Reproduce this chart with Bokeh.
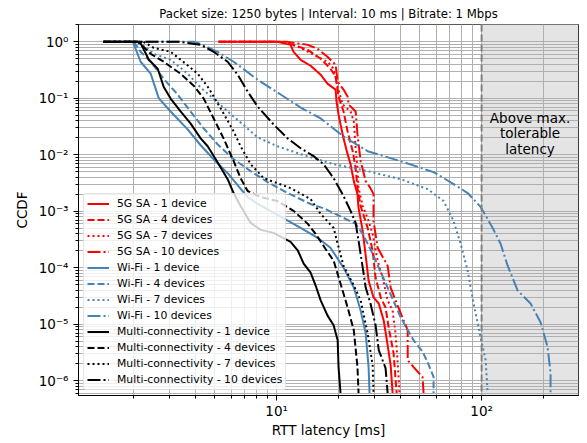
from bokeh.plotting import figure
from bokeh.models import FixedTicker, CustomJSTickFormatter, BoxAnnotation, Span, Label
from bokeh.embed import file_html
from bokeh.resources import INLINE

TITLE = "Packet size: 1250 bytes | Interval: 10 ms | Bitrate: 1 Mbps"
X_LABEL = "RTT latency [ms]"
Y_LABEL = "CCDF"
MAX_LATENCY = 100  # ms, max tolerable latency
SHADE_TEXT = "Above max.\ntolerable\nlatency"

X_RANGE = (1.08, 297)
Y_RANGE = (5.5e-7, 2.03)
X_MAJOR = [1, 10, 100]
Y_MAJOR = [1e-6, 1e-5, 1e-4, 1e-3, 1e-2, 1e-1, 1]

# ---- 5G SA ----
g5_1_ms = [5.21, 10.1, 11.7, 12.1, 13.1, 14.65, 16.4, 17.7, 19.4, 19.6, 20.05, 20.5, 21.2, 22.2, 22.95,
           23.8, 24.8, 25.1, 26.3, 27.2, 28.1, 29.7, 31.5, 33.3, 34.8, 36.0, 36.8]
g5_1_cc = [1, 1, 0.885, 0.667, 0.482, 0.378, 0.263, 0.182, 0.143, 0.0879, 0.0519, 0.0346, 0.0196, 0.0103,
           0.00683, 0.00343, 0.00202, 0.00115, 0.000452, 0.000164, 5.95e-5, 2.99e-5, 2.34e-5, 1.17e-5,
           4.27e-6, 1.9e-6, 6.1e-7]
g5_4_ms = [5.21, 10.46, 12.1, 14.2, 16.4, 18.3, 19.4, 20.05, 21.2, 22.2, 23.5, 24.3, 24.8, 25.7, 27.8,
           29.4, 30.4, 32.2, 34.0, 35.2, 37.2, 38.5]
g5_4_cc = [1, 1, 0.885, 0.723, 0.502, 0.335, 0.242, 0.108, 0.0586, 0.026, 0.0116, 0.00581, 0.00258,
           0.00124, 0.00051, 0.000201, 6.72e-5, 2.99e-5, 1.99e-5, 8.86e-6, 3.09e-6, 6.1e-7]
g5_7_ms = [5.21, 10.8, 13.1, 15.15, 17.7, 18.97, 19.85, 21.0, 22.95, 23.8, 24.3, 24.8, 25.1, 26.3, 28.1,
           29.4, 31.1, 32.9, 34.8, 36.8, 38.0, 38.9, 39.8]
g5_7_cc = [1, 1, 0.784, 0.59, 0.445, 0.335, 0.161, 0.0778, 0.0586, 0.0391, 0.0131, 0.00581, 0.00258,
           0.00124, 0.000678, 0.0004, 0.000134, 6.72e-5, 2.65e-5, 1.76e-5, 6.94e-6, 2.32e-6, 6.1e-7]
g5_10_ms = [5.21, 11.3, 14.2, 15.85, 17.7, 19.4, 19.85, 21.2, 22.2, 22.45, 24.3, 24.8, 25.7, 27.2, 28.7,
            29.7, 29.7, 31.1, 34.8, 36.0, 38.9, 43.6, 43.6, 46.6, 51.5, 52.1]
g5_10_cc = [1, 1, 0.885, 0.753, 0.545, 0.394, 0.198, 0.143, 0.108, 0.0778, 0.0586, 0.023, 0.00772,
            0.00343, 0.00258, 0.00202, 0.000678, 0.000227, 0.000109, 4.48e-5, 2.16e-5, 7.84e-6, 2.32e-6,
            1.75e-6, 1.17e-6, 6.1e-7]

# ---- Wi-Fi ----
wf_1_ms = [1.43, 1.99, 2.17, 2.43, 2.66, 3.04, 3.68, 4.26, 4.93, 5.77, 6.45, 7.22, 8.08, 10.1, 13.1,
           15.85, 18.3, 21.2, 23.8, 25.7, 27.2, 28.1, 28.4]
wf_1_cc = [1, 1, 0.445, 0.273, 0.101, 0.0586, 0.0282, 0.0148, 0.00836, 0.00473, 0.00291, 0.00179,
           0.00135, 0.000865, 0.00051, 0.00034, 0.000227, 0.000101, 4.48e-5, 1.76e-5, 6.94e-6, 1.75e-6,
           6.1e-7]
wf_4_ms = [1.43, 2.01, 2.17, 2.43, 2.81, 3.29, 3.80, 4.41, 5.15, 6.17, 7.47, 9.04, 11.3, 14.65, 17.3,
           21.2, 24.3, 26.3, 29.4, 34.8, 40.3, 46.6, 51.5, 54.5, 58.3, 58.3]
wf_4_cc = [1, 1, 0.667, 0.445, 0.223, 0.117, 0.0586, 0.0294, 0.0154, 0.00836, 0.00515, 0.00329, 0.00211,
           0.00135, 0.0011, 0.000765, 0.0006, 0.0004, 0.000178, 4.48e-5, 1.33e-5, 5.22e-6, 3.3e-6,
           2.14e-6, 1.17e-6, 6.1e-7]
wf_7_ms = [1.43, 2.05, 2.17, 2.35, 2.51, 3.04, 3.68, 4.26, 4.93, 5.77, 6.67, 8.08, 10.1, 13.1, 18.97,
           27.8, 40.3, 54.5, 65.3, 73.0, 79.0, 85.5, 91.4, 98.9, 104.7, 107.0]
wf_7_cc = [1, 1, 0.922, 0.753, 0.615, 0.482, 0.273, 0.155, 0.099, 0.0586, 0.0375, 0.0204, 0.0142,
           0.0103, 0.00683, 0.00515, 0.00371, 0.00248, 0.00152, 0.000678, 0.000267, 8.93e-5, 2.34e-5,
           5.9e-6, 2.32e-6, 6.1e-7]
wf_10_ms = [1.43, 3.94, 4.26, 5.15, 6.17, 8.08, 10.46, 13.1, 16.4, 21.2, 27.8, 40.3, 58.3, 73.0, 85.5,
            98.9, 113.2, 123.8, 134.0, 150, 173.4, 194.1, 210, 217, 217]
wf_10_cc = [1, 1, 0.922, 0.667, 0.445, 0.214, 0.117, 0.0689, 0.0441, 0.0212, 0.0116, 0.00772, 0.00494,
            0.00304, 0.00211, 0.0012, 0.00051, 0.000267, 0.000109, 3.97e-5, 2.34e-5, 1.08e-5, 3.93e-6,
            1.37e-6, 6.1e-7]

# ---- Multi-connectivity ----
mc_1_ms = [1.43, 2.15, 2.24, 2.38, 2.63, 2.81, 3.04, 3.40, 3.80, 4.26, 4.61, 5.15, 5.77, 6.17, 6.67,
           7.47, 8.36, 9.66, 11.7, 12.7, 13.55, 14.65, 15.5, 16.4, 17.7, 18.97, 19.85, 20.05, 20.5]
mc_1_cc = [1, 1, 0.753, 0.482, 0.335, 0.161, 0.099, 0.0586, 0.036, 0.0196, 0.0142, 0.00741, 0.00371,
           0.00211, 0.00124, 0.000624, 0.00047, 0.000416, 0.000289, 0.000201, 0.000119, 8.23e-5,
           4.86e-5, 2.65e-5, 1.44e-5, 9.6e-6, 5.22e-6, 1.75e-6, 6.1e-7]
mc_4_ms = [1.43, 2.10, 2.24, 2.43, 2.81, 3.40, 3.94, 4.41, 4.93, 5.51, 6.17, 6.67, 7.22, 8.36, 10.1,
           12.1, 14.2, 15.5, 17.3, 18.97, 20.5, 22.2, 23.8, 24.8, 25.1]
mc_4_cc = [1, 1, 0.817, 0.615, 0.445, 0.273, 0.168, 0.099, 0.0441, 0.0196, 0.00772, 0.00387, 0.00229,
           0.00179, 0.00152, 0.00102, 0.0006, 0.0004, 0.000218, 0.000134, 5.27e-5, 1.99e-5, 7.84e-6,
           1.75e-6, 6.1e-7]
mc_7_ms = [1.43, 2.24, 2.51, 3.04, 3.60, 4.12, 4.61, 4.93, 5.51, 6.17, 6.67, 7.47, 8.65, 11.7, 14.65,
           16.4, 18.97, 19.85, 21.2, 23.8, 25.7, 27.8, 29.4, 29.7]
mc_7_cc = [1, 1, 0.784, 0.667, 0.41, 0.273, 0.161, 0.108, 0.0541, 0.026, 0.0142, 0.00683, 0.00387,
           0.00258, 0.00165, 0.0009, 0.00051, 0.000267, 0.000109, 4.86e-5, 2.65e-5, 6.94e-6, 1.9e-6,
           6.1e-7]
mc_10_ms = [1.43, 3.40, 4.26, 4.93, 5.77, 6.45, 7.22, 8.08, 9.66, 11.3, 13.1, 15.15, 16.95, 18.97, 21.2,
            22.95, 24.3, 25.1, 26.3, 27.2, 28.7, 30.4, 31.5, 34.0, 34.8]
mc_10_cc = [1, 1, 0.885, 0.667, 0.445, 0.263, 0.132, 0.0717, 0.0346, 0.0196, 0.0131, 0.00949, 0.00683,
            0.00387, 0.00187, 0.00102, 0.000624, 0.000301, 0.000101, 4.48e-5, 2.34e-5, 9.6e-6, 3.49e-6,
            1.68e-6, 6.1e-7]

RED, BLUE, BLACK = "#ff0000", "#4682b4", "#000000"
DASHES = {1: "solid", 4: "7 3", 7: "2 3", 10: "13 3 2 3"}

series = [
    ("5G SA - 1 device", g5_1_ms, g5_1_cc, RED, 1),
    ("5G SA - 4 devices", g5_4_ms, g5_4_cc, RED, 4),
    ("5G SA - 7 devices", g5_7_ms, g5_7_cc, RED, 7),
    ("5G SA - 10 devices", g5_10_ms, g5_10_cc, RED, 10),
    ("Wi-Fi - 1 device", wf_1_ms, wf_1_cc, BLUE, 1),
    ("Wi-Fi - 4 devices", wf_4_ms, wf_4_cc, BLUE, 4),
    ("Wi-Fi - 7 devices", wf_7_ms, wf_7_cc, BLUE, 7),
    ("Wi-Fi - 10 devices", wf_10_ms, wf_10_cc, BLUE, 10),
    ("Multi-connectivity - 1 device", mc_1_ms, mc_1_cc, BLACK, 1),
    ("Multi-connectivity - 4 devices", mc_4_ms, mc_4_cc, BLACK, 4),
    ("Multi-connectivity - 7 devices", mc_7_ms, mc_7_cc, BLACK, 7),
    ("Multi-connectivity - 10 devices", mc_10_ms, mc_10_cc, BLACK, 10),
]

FONT = "DejaVu Sans"

p = figure(width=587, height=443, x_axis_type="log", y_axis_type="log",
           x_range=X_RANGE, y_range=Y_RANGE, output_backend="svg", toolbar_location=None,
           min_border_left=78, min_border_right=9, min_border_top=22, min_border_bottom=48,
           title=TITLE)

p.title.text_font = FONT
p.title.text_font_size = "11.7px"
p.title.text_font_style = "normal"
p.title.text_color = "black"
p.title.align = "center"
p.title.standoff = 8

# shaded region
p.add_layout(BoxAnnotation(left=MAX_LATENCY, fill_color="#e4e4e4", fill_alpha=1.0,
                           line_alpha=0, level="image"))

for label, xs, ys, color, n in series:
    p.line(xs, ys, line_color=color, line_width=2, line_dash=DASHES[n], legend_label=label)

p.add_layout(Span(location=MAX_LATENCY, dimension="height", line_color="#808080",
                  line_width=2, line_dash="7 3"))

p.add_layout(Label(x=(MAX_LATENCY * X_RANGE[1]) ** 0.5, y=0.024, text=SHADE_TEXT,
                   text_align="center", text_baseline="middle", text_font=FONT,
                   text_font_size="13.5px", text_line_height=0.98, text_color="black"))

# ticks
x_minor = [k * 10 ** e for e in range(0, 3) for k in range(2, 10)]
y_minor = [k * 10.0 ** e for e in range(-7, 1) for k in range(2, 10)]
p.xaxis.ticker = FixedTicker(ticks=X_MAJOR, minor_ticks=x_minor)
p.yaxis.ticker = FixedTicker(ticks=Y_MAJOR, minor_ticks=y_minor)

fmt_code = """
const sup = {"-": "\\u207b", "0": "\\u2070", "1": "\\u00b9", "2": "\\u00b2", "3": "\\u00b3",
             "4": "\\u2074", "5": "\\u2075", "6": "\\u2076", "7": "\\u2077", "8": "\\u2078", "9": "\\u2079"};
const e = Math.round(Math.log10(tick));
return "10" + String(e).split("").map(c => sup[c]).join("");
"""
for ax in (p.xaxis[0], p.yaxis[0]):
    ax.formatter = CustomJSTickFormatter(code=fmt_code)
    ax.major_label_text_font = FONT
    ax.major_label_text_font_size = "13.5px"
    ax.major_label_text_color = "black"
    ax.axis_label_text_font = FONT
    ax.axis_label_text_font_size = "13.5px"
    ax.axis_label_text_font_style = "normal"
    ax.axis_label_text_color = "black"
    ax.axis_line_color = "black"
    ax.major_tick_line_color = "black"
    ax.minor_tick_line_color = "black"
    ax.major_tick_out = 5
    ax.major_tick_in = 0
    ax.minor_tick_out = 3
    ax.minor_tick_in = 0

p.xaxis.axis_label = X_LABEL
p.yaxis.axis_label = Y_LABEL
p.xaxis.major_label_standoff = 2
p.xaxis.axis_label_standoff = 0
p.yaxis.major_label_standoff = 5
p.yaxis.axis_label_standoff = 6

for g in (p.xgrid[0], p.ygrid[0]):
    g.grid_line_color = "#b0b0b0"
    g.grid_line_width = 1
    g.minor_grid_line_color = "#b0b0b0"
    g.minor_grid_line_width = 1

p.outline_line_color = "black"
p.outline_line_width = 1
p.outline_line_alpha = 1
p.background_fill_color = "white"
p.border_fill_color = "white"

lg = p.legend[0]
lg.location = "bottom_left"
lg.margin = 5
lg.padding = 3
lg.spacing = 3
lg.label_height = 13
lg.glyph_height = 13
lg.glyph_width = 22
lg.label_standoff = 8
lg.label_text_font = FONT
lg.label_text_font_size = "10.8px"
lg.label_text_color = "black"
lg.background_fill_color = "white"
lg.background_fill_alpha = 0.8
lg.border_line_color = "#cccccc"
lg.border_line_width = 1
lg.border_radius = 3

open("out.html", "w").write(file_html(p, INLINE))
